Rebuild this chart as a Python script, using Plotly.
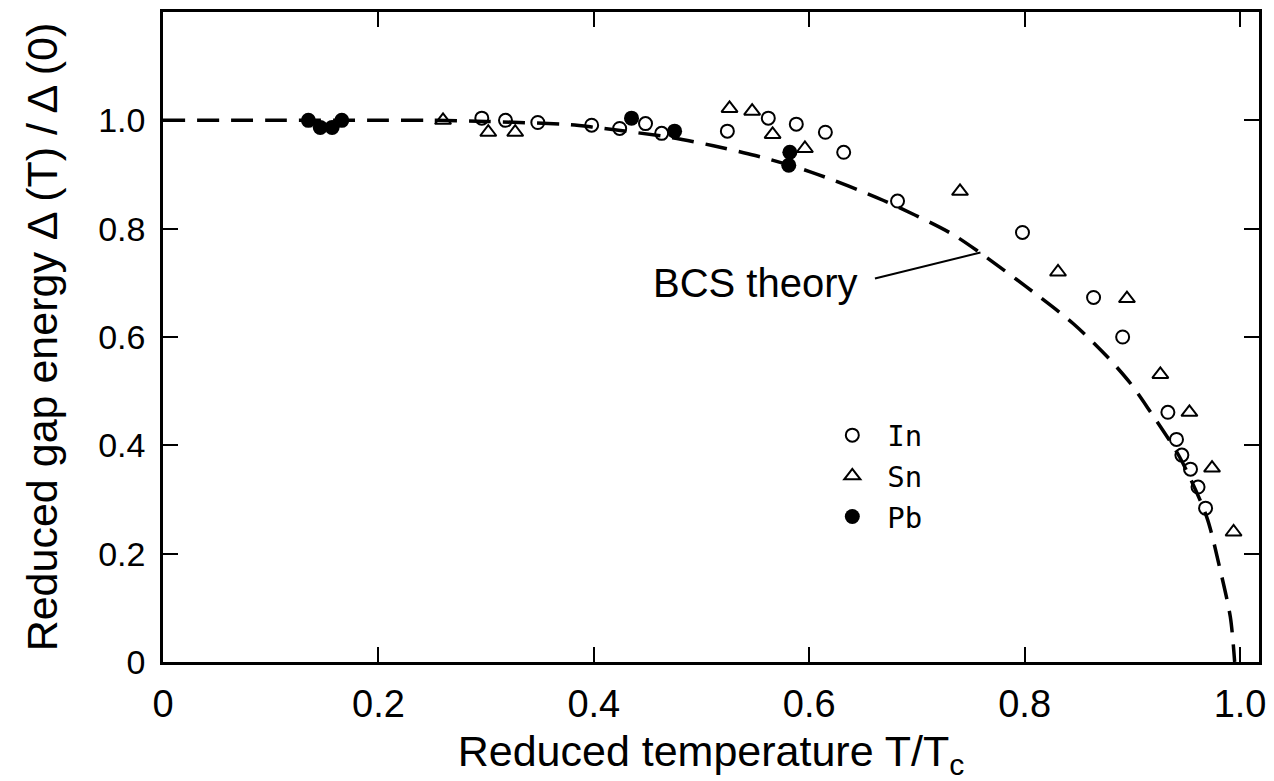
import plotly.graph_objects as go

# BCS theory curve
bcs_t = [0.0, 0.1, 0.2, 0.25, 0.3, 0.378, 0.401, 0.473, 0.511, 0.55, 0.601, 0.669,
         0.731, 0.759, 0.802, 0.845, 0.877, 0.898, 0.914, 0.944, 0.969, 0.981,
         0.991, 0.995]
bcs_d = [1.0, 1.0, 1.0, 1.0, 0.998, 0.992, 0.987, 0.968, 0.953, 0.935, 0.905, 0.852,
         0.792, 0.755, 0.692, 0.625, 0.563, 0.515, 0.470, 0.378, 0.268, 0.175,
         0.083, 0.0]

in_t = [0.296, 0.318, 0.348, 0.398, 0.424, 0.448, 0.463, 0.524, 0.562, 0.588, 0.615,
        0.632, 0.682, 0.798, 0.864, 0.891, 0.933, 0.941, 0.946, 0.954, 0.961, 0.968]
in_d = [1.004, 1.0, 0.996, 0.991, 0.985, 0.994, 0.976, 0.980, 1.004, 0.993, 0.978,
        0.941, 0.851, 0.793, 0.673, 0.600, 0.461, 0.411, 0.382, 0.356, 0.323, 0.284]

sn_t = [0.260, 0.302, 0.327, 0.526, 0.547, 0.566, 0.596, 0.740, 0.831, 0.895, 0.926,
        0.953, 0.974, 0.994]
sn_d = [1.0, 0.978, 0.978, 1.022, 1.017, 0.974, 0.948, 0.869, 0.720, 0.671, 0.531,
        0.461, 0.358, 0.240]

pb_t = [0.135, 0.146, 0.157, 0.166, 0.435, 0.475, 0.582, 0.581]
pb_d = [1.0, 0.987, 0.987, 1.0, 1.004, 0.980, 0.941, 0.917]

x_ticks = [0, 0.2, 0.4, 0.6, 0.8, 1.0]
x_labels = ["0", "0.2", "0.4", "0.6", "0.8", "1.0"]
y_ticks = [0, 0.2, 0.4, 0.6, 0.8, 1.0]
y_labels = ["0", "0.2", "0.4", "0.6", "0.8", "1.0"]

fig = go.Figure()
fig.add_trace(go.Scatter(x=bcs_t, y=bcs_d, mode="lines", showlegend=False,
                         line=dict(color="black", width=3.5, dash="22px,12px",
                                   shape="spline", smoothing=0.8)))
fig.add_trace(go.Scatter(x=in_t, y=in_d, mode="markers", name="In",
                         marker=dict(symbol="circle-open", size=13, color="black",
                                     line=dict(width=2, color="black"))))
fig.add_trace(go.Scatter(x=sn_t, y=sn_d, mode="markers", name="Sn",
                         marker=dict(symbol="triangle-up-open", size=14, color="black",
                                     line=dict(width=2, color="black"))))
fig.add_trace(go.Scatter(x=pb_t, y=pb_d, mode="markers", name="Pb",
                         marker=dict(symbol="circle", size=15, color="black")))

fig.add_shape(type="line", x0=0.661, y0=0.708, x1=0.759, y1=0.756,
              line=dict(color="black", width=2))
fig.add_annotation(x=0.647, y=0.699, xref="x", yref="y", text="BCS theory",
                   showarrow=False, xanchor="right", yanchor="middle",
                   font=dict(family="Liberation Sans", size=40, color="black"))

axis_common = dict(showgrid=False, zeroline=False, showline=True, linecolor="black",
                   linewidth=2.5, mirror="ticks", ticks="inside", ticklen=15,
                   tickwidth=2, tickcolor="black", automargin=False)

fig.update_xaxes(range=[0, 1.0176], tickvals=x_ticks, ticktext=x_labels,
                 ticklabelstandoff=7,
                 tickfont=dict(family="Liberation Sans", size=38, color="black"),
                 title=dict(text="Reduced temperature T/T<sub>c</sub>",
                            font=dict(family="Liberation Sans", size=43, color="black"),
                            standoff=30),
                 **axis_common)
fig.update_yaxes(range=[0, 1.2], tickvals=y_ticks, ticktext=y_labels,
                 ticklabelstandoff=8,
                 tickfont=dict(family="Liberation Sans", size=34, color="black"),
                 title=dict(text="Reduced gap energy Δ (T) / Δ (0)",
                            font=dict(family="Liberation Sans", size=43, color="black"),
                            standoff=28),
                 **axis_common)

fig.update_layout(
    width=1266, height=773,
    margin=dict(l=155, r=15, t=4, b=119),
    plot_bgcolor="white", paper_bgcolor="white",
    legend=dict(x=0.597, y=0.388, xanchor="left", yanchor="top",
                bgcolor="rgba(0,0,0,0)", itemwidth=60,
                font=dict(family="DejaVu Sans Mono", size=29, color="black"),
                tracegroupgap=0),
)

fig.write_html("out.html")
